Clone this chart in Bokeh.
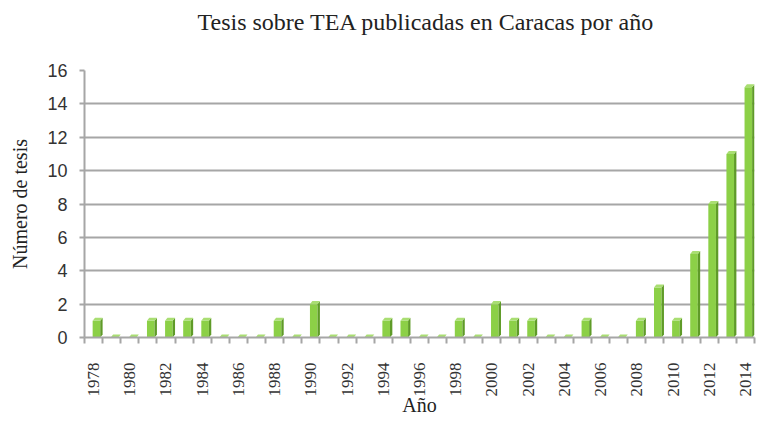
import math
from bokeh.plotting import figure
from bokeh.models import Range1d, FixedTicker, Title
from bokeh.embed import file_html
from bokeh.resources import INLINE

years = list(range(1978, 2015))
values = [1, 0, 0, 1, 1, 1, 1, 0, 0, 0, 1, 0, 2, 0, 0, 0, 1, 1, 0, 0, 1, 0,
          2, 1, 1, 0, 0, 1, 0, 0, 1, 3, 1, 5, 8, 11, 15]
y_ticks = [0, 2, 4, 6, 8, 10, 12, 14, 16]
x_label_years = [y for y in years if y % 2 == 0]

title_text = "Tesis sobre TEA publicadas en Caracas por año"
x_title = "Año"
y_title = "Número de tesis"

SERIF = "Liberation Serif"
SANS = "Liberation Sans"

p = figure(width=760, height=430, output_backend="svg", toolbar_location=None,
           x_range=Range1d(years[0] - 0.5, years[-1] + 0.5), y_range=Range1d(0, 16))
p.min_border_left = 84
p.min_border_right = 6
p.min_border_top = 70
p.min_border_bottom = 93
p.outline_line_color = None
p.background_fill_color = "white"

p.title.text = title_text
p.title.text_font = SERIF
p.title.text_font_size = "24px"
p.title.text_font_style = "normal"
p.title.text_color = "#222222"
p.title.align = "left"
p.title.offset = 113
p.title.standoff = 0

# empty spacer title between the main title and the frame
p.add_layout(Title(text=" ", text_font_size="18px", standoff=14), "above")

# grid
p.xgrid.grid_line_color = None
p.ygrid.ticker = FixedTicker(ticks=y_ticks)
p.ygrid.grid_line_color = "#a6a6a6"
p.ygrid.grid_line_width = 2

# y axis
p.yaxis.ticker = FixedTicker(ticks=y_ticks)
p.yaxis.axis_line_color = "#a6a6a6"
p.yaxis.axis_line_width = 2
p.yaxis.major_tick_line_color = "#a6a6a6"
p.yaxis.major_tick_line_width = 2
p.yaxis.major_tick_out = 5
p.yaxis.major_tick_in = 0
p.yaxis.minor_tick_line_color = None
p.yaxis.major_label_text_font = SANS
p.yaxis.major_label_text_font_size = "18px"
p.yaxis.major_label_text_color = "#333333"
p.yaxis.major_label_standoff = 12
p.yaxis.axis_label = y_title
p.yaxis.axis_label_text_font = SERIF
p.yaxis.axis_label_text_font_size = "20px"
p.yaxis.axis_label_text_font_style = "normal"
p.yaxis.axis_label_text_color = "#222222"
p.yaxis.axis_label_standoff = 13

# x axis
boundaries = [y - 0.5 for y in years] + [years[-1] + 0.5]
p.xaxis.ticker = FixedTicker(ticks=x_label_years, minor_ticks=boundaries)
p.xaxis.axis_line_color = "#a6a6a6"
p.xaxis.axis_line_width = 2
p.xaxis.major_tick_line_color = None
p.xaxis.major_tick_out = 0
p.xaxis.major_tick_in = 0
p.xaxis.minor_tick_line_color = "#a6a6a6"
p.xaxis.minor_tick_line_width = 2
p.xaxis.minor_tick_out = 6
p.xaxis.minor_tick_in = 0
p.xaxis.major_label_orientation = math.pi / 2
p.xaxis.major_label_text_font = SERIF
p.xaxis.major_label_text_font_size = "17px"
p.xaxis.major_label_text_color = "#333333"
p.xaxis.major_label_standoff = 19
p.xaxis.axis_label = x_title
p.xaxis.axis_label_text_font = SERIF
p.xaxis.axis_label_text_font_size = "20px"
p.xaxis.axis_label_text_font_style = "normal"
p.xaxis.axis_label_text_color = "#222222"
p.xaxis.axis_label_standoff = -6

# pseudo-3D bars built from the data
front_l, front_r, depth_x, depth_y = -0.05, 0.37, 0.13, 0.18
side_xs, side_ys, top_xs, top_ys = [], [], [], []
for yr, v in zip(years, values):
    l = yr + front_l
    r = yr + front_r
    side_xs.append([r, r + depth_x, r + depth_x, r])
    side_ys.append([0, depth_y, v + depth_y, v])
    top_xs.append([l, l + depth_x, r + depth_x, r])
    top_ys.append([v, v + depth_y, v + depth_y, v])

p.vbar(x=[yr + (front_l + front_r) / 2 for yr in years], width=front_r - front_l,
       top=values, bottom=0, fill_color="#8cd047", line_color=None)
p.patches(side_xs, side_ys, fill_color="#5f9b28", line_color=None)
p.patches(top_xs, top_ys, fill_color="#a9de72", line_color=None)

open("out.html", "w").write(file_html(p, INLINE))
